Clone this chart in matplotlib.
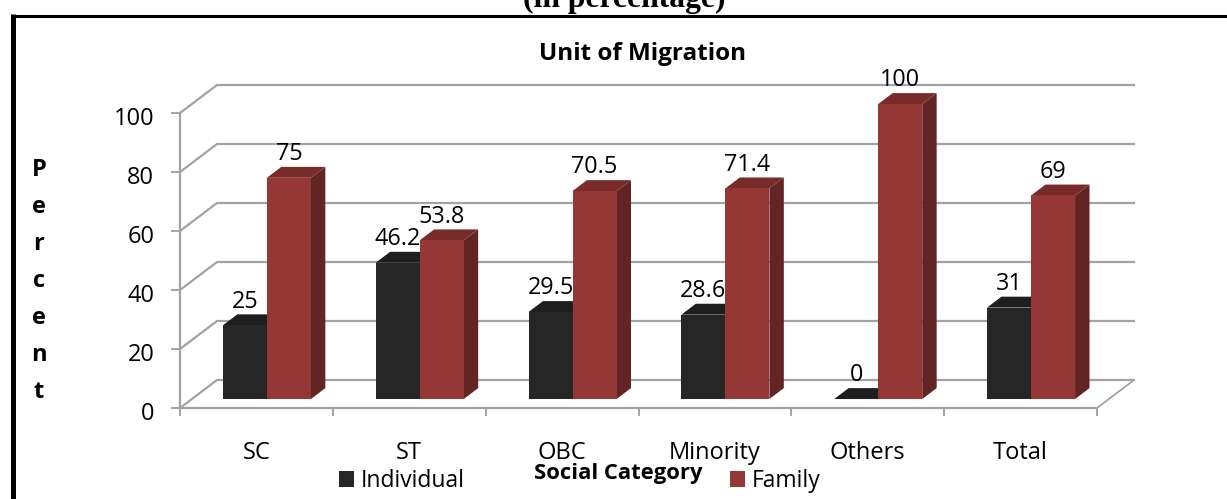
"""Unit of migration by social category, pseudo-3D clustered columns."""
import matplotlib
matplotlib.use("Agg")
import matplotlib.pyplot as plt
from matplotlib.lines import Line2D
from matplotlib.patches import Polygon, Patch
from matplotlib.transforms import ScaledTranslation

categories = ['SC', 'ST', 'OBC', 'Minority', 'Others', 'Total']
individual = [25, 46.2, 29.5, 28.6, 0, 31]
family = [75, 53.8, 70.5, 71.4, 100, 69]
individual_labels = ['25', '46.2', '29.5', '28.6', '0', '31']
family_labels = ['75', '53.8', '70.5', '71.4', '100', '69']
y_ticks = [0, 20, 40, 60, 80, 100]

W, H = 1227, 499
FONT = 'Open Sans'
GREY = '#a3a3a3'

# one unit of depth in data units (37 px right, 28 px up)
DEPTH_X = 37 / 152.83
DEPTH_Y = 28 / 2.95
BAR_W = 0.288
BAR_D0, BAR_D1 = 0.32, 0.71


def proj(x, y, d=0.0):
    return (x + d * DEPTH_X, y + d * DEPTH_Y)


def draw_bar(ax, x0, v, front, top, side):
    x1 = x0 + BAR_W
    ax.add_patch(Polygon([proj(x1, 0, BAR_D0), proj(x1, 0, BAR_D1), proj(x1, v, BAR_D1), proj(x1, v, BAR_D0)],
                         fc=side, ec='none', clip_on=False, zorder=3))
    ax.add_patch(Polygon([proj(x0, v, BAR_D0), proj(x0, v, BAR_D1), proj(x1, v, BAR_D1), proj(x1, v, BAR_D0)],
                         fc=top, ec='none', clip_on=False, zorder=3))
    ax.add_patch(Polygon([proj(x0, 0, BAR_D0), proj(x1, 0, BAR_D0), proj(x1, v, BAR_D0), proj(x0, v, BAR_D0)],
                         fc=front, ec='none', clip_on=False, zorder=3))


fig = plt.figure(figsize=(W / 100, H / 100), dpi=100)
ax = fig.add_axes([180 / W, (H - 408) / H, 917 / W, 295 / H])
ax.set_xlim(0, 6)
ax.set_ylim(0, 100)
ax.patch.set_visible(False)

# back wall and floor
for v in y_ticks:
    pts = [proj(0, v), proj(0, v, 1), proj(6, v, 1)]
    ax.plot(*zip(*pts), color=GREY, lw=1.6, clip_on=False, zorder=1, solid_joinstyle='miter')
ax.plot(*zip(proj(6, 0), proj(6, 0, 1)), color=GREY, lw=1.3, clip_on=False, zorder=1)

for i in range(len(categories)):
    x0 = i + 0.203
    draw_bar(ax, x0, individual[i], '#262626', '#1e1e1e', '#1a1a1a')
    draw_bar(ax, x0 + BAR_W, family[i], '#953735', '#772c2a', '#632523')
    for xb, v, txt in [(x0, individual[i], individual_labels[i]), (x0 + BAR_W, family[i], family_labels[i])]:
        px, py = proj(xb + BAR_W / 2, v, BAR_D0)
        ax.annotate(txt, (px, py), xytext=(0, 17), textcoords='offset points', ha='center', va='center',
                    fontsize=16.8, family=FONT, color='black', zorder=5, annotation_clip=False)

for name in ['top', 'right']:
    ax.spines[name].set_visible(False)
for name in ['left', 'bottom']:
    ax.spines[name].set_color(GREY)
    ax.spines[name].set_linewidth(1.6)

ax.set_yticks(y_ticks)
ax.set_yticklabels([str(v) for v in y_ticks], fontsize=17, family=FONT)
ax.set_xticks(range(7))
ax.set_xticklabels([])
ax.set_xticks([i + 0.5 for i in range(6)], minor=True)
ax.set_xticklabels(categories, minor=True, fontsize=17, family=FONT)
ax.tick_params(axis='y', length=6.5, width=1.4, color=GREY, pad=12)
ax.tick_params(axis='x', which='major', length=6, width=1.4, color=GREY)
ax.tick_params(axis='x', which='minor', length=0, pad=24)

# tick numbers sit a little under their ticks in the source
for lbl in ax.get_yticklabels():
    lbl.set_transform(lbl.get_transform() + ScaledTranslation(0, -2 / 72, fig.dpi_scale_trans))

ax.set_ylabel('\n'.join('Percent'), rotation=0, fontsize=17, fontweight='bold', family=FONT,
              ha='center', va='center', linespacing=1.72)
ax.yaxis.set_label_coords((39 - 180) / 917, (408 - 281) / 295)

fig.text(643 / W, (H - 54) / H, 'Unit of Migration', ha='center', va='center',
         fontsize=17.5, fontweight='bold', family=FONT)
fig.text(618 / W, (H - 474) / H, 'Social Category', ha='center', va='center',
         fontsize=15.8, fontweight='bold', family=FONT, zorder=6)
fig.text(624 / W, (H - 7.5) / H, '(in percentage)', ha='center', va='baseline',
         fontsize=22.8, fontweight='bold', family='Liberation Serif')

handles = [Patch(fc='#262626', ec='none', label='Individual'), Patch(fc='#953735', ec='none', label='Family')]
fig.legend(handles=handles, ncol=2, loc='center left', bbox_to_anchor=(339 / W, (H - 481) / H),
           frameon=False, borderpad=0, borderaxespad=0, handlelength=0.655, handleheight=0.655,
           handletextpad=0.3, columnspacing=11.57, prop={'family': FONT, 'size': 16.5})

# page frame of the source document
fig.add_artist(Line2D([13 / W, 13 / W], [0, (H - 14) / H], color='black', lw=3.6, solid_capstyle='butt'))
fig.add_artist(Line2D([11 / W, 1], [(H - 15.5) / H] * 2, color='black', lw=2.2, solid_capstyle='butt'))

fig.savefig('out.png', dpi=100)
